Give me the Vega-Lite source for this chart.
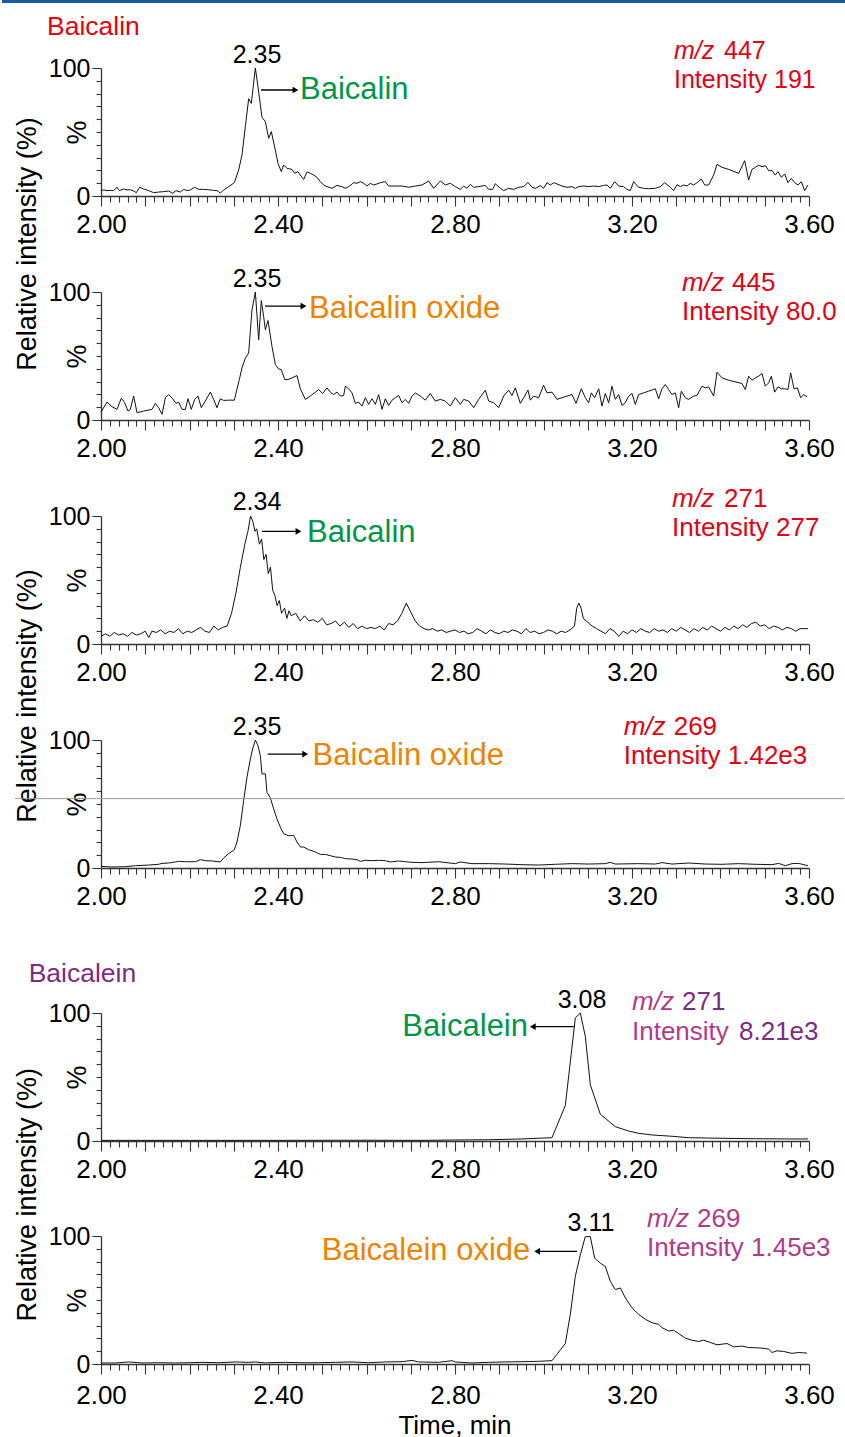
{
"$schema":"https://vega.github.io/schema/vega-lite/v6.json",
"padding":0,
"spacing":0,
"bounds":"flush",
"background":"white",
"config":{"view":{"stroke":null},
"axis":{"labelFont":"Liberation Sans","titleFont":"Liberation Sans","labelColor":"#000","titleColor":"#000","domainColor":"#333","tickColor":"#333","domainWidth":1.3,"tickWidth":1.1,"grid":false,"titleFontWeight":"normal"},
"text":{"font":"Liberation Sans"}},
"vconcat":[
{"width":708,"height":128,
"data":{"values":[{"t":2,"i":4.2},{"t":2.006,"i":4.7},{"t":2.0136,"i":4.2},{"t":2.0211,"i":4.4},{"t":2.0286,"i":4.2},{"t":2.0362,"i":6.8},{"t":2.0414,"i":4.2},{"t":2.0512,"i":5.5},{"t":2.0588,"i":4.7},{"t":2.0663,"i":4.9},{"t":2.0738,"i":3.9},{"t":2.0798,"i":2.6},{"t":2.0874,"i":6.8},{"t":2.0964,"i":5.5},{"t":2.1077,"i":4.2},{"t":2.119,"i":2.6},{"t":2.1303,"i":3.1},{"t":2.1416,"i":3.4},{"t":2.1529,"i":3.9},{"t":2.162,"i":2.1},{"t":2.1695,"i":4.2},{"t":2.1793,"i":3.1},{"t":2.1868,"i":5.2},{"t":2.1944,"i":4.2},{"t":2.2019,"i":4.7},{"t":2.2117,"i":6.8},{"t":2.2207,"i":5.2},{"t":2.232,"i":5.2},{"t":2.2433,"i":4.9},{"t":2.2546,"i":4.4},{"t":2.2621,"i":4.2},{"t":2.2697,"i":2.3},{"t":2.2772,"i":4.7},{"t":2.2885,"i":7.3},{"t":2.3013,"i":10.4},{"t":2.3111,"i":20.3},{"t":2.3186,"i":32},{"t":2.3262,"i":54.2},{"t":2.3337,"i":76},{"t":2.3397,"i":72.4},{"t":2.3488,"i":100},{"t":2.3548,"i":85.4},{"t":2.3638,"i":61.5},{"t":2.3714,"i":58.1},{"t":2.3789,"i":45.1},{"t":2.3849,"i":50.3},{"t":2.394,"i":35.9},{"t":2.4,"i":25.5},{"t":2.4075,"i":19},{"t":2.4128,"i":24.2},{"t":2.4203,"i":21.6},{"t":2.4316,"i":20.8},{"t":2.4377,"i":17.7},{"t":2.4452,"i":19},{"t":2.452,"i":15.6},{"t":2.458,"i":13},{"t":2.4655,"i":18.8},{"t":2.4731,"i":17.7},{"t":2.4806,"i":16.4},{"t":2.4881,"i":14.6},{"t":2.4957,"i":11.2},{"t":2.5032,"i":8.6},{"t":2.5107,"i":7.3},{"t":2.522,"i":6},{"t":2.5333,"i":8.3},{"t":2.5446,"i":7.3},{"t":2.5522,"i":6},{"t":2.5597,"i":7.3},{"t":2.571,"i":10.4},{"t":2.5785,"i":9.9},{"t":2.5861,"i":11.2},{"t":2.5936,"i":9.9},{"t":2.6011,"i":7.8},{"t":2.6087,"i":9.9},{"t":2.6162,"i":8.6},{"t":2.6237,"i":9.4},{"t":2.6313,"i":10.4},{"t":2.6426,"i":11.2},{"t":2.6501,"i":7.8},{"t":2.6652,"i":7.8},{"t":2.6802,"i":7.8},{"t":2.6953,"i":6.8},{"t":2.7104,"i":7.8},{"t":2.7254,"i":8.6},{"t":2.7405,"i":11.7},{"t":2.7518,"i":6},{"t":2.7668,"i":11.7},{"t":2.7781,"i":8.6},{"t":2.7894,"i":9.9},{"t":2.8007,"i":7.3},{"t":2.812,"i":5.2},{"t":2.8196,"i":7.8},{"t":2.8271,"i":6},{"t":2.8346,"i":9.1},{"t":2.8422,"i":6.8},{"t":2.8535,"i":7.3},{"t":2.8685,"i":8.3},{"t":2.8761,"i":5.2},{"t":2.8851,"i":5.2},{"t":2.8911,"i":9.6},{"t":2.9024,"i":6},{"t":2.91,"i":4.2},{"t":2.9213,"i":6},{"t":2.9326,"i":5.2},{"t":2.9439,"i":6.8},{"t":2.9552,"i":7.3},{"t":2.9649,"i":10.7},{"t":2.974,"i":6.8},{"t":2.9815,"i":6},{"t":2.9928,"i":8.1},{"t":3.0003,"i":6},{"t":3.0079,"i":10.4},{"t":3.0154,"i":8.6},{"t":3.023,"i":10.4},{"t":3.0305,"i":9.4},{"t":3.0418,"i":7.8},{"t":3.0531,"i":6.8},{"t":3.0644,"i":7.3},{"t":3.0719,"i":6},{"t":3.0794,"i":7.3},{"t":3.0907,"i":7.8},{"t":3.102,"i":7.3},{"t":3.1133,"i":7.8},{"t":3.1247,"i":7.3},{"t":3.1359,"i":8.3},{"t":3.1435,"i":8.6},{"t":3.151,"i":6},{"t":3.1608,"i":11.2},{"t":3.1698,"i":7.8},{"t":3.1811,"i":7.3},{"t":3.1887,"i":5.2},{"t":3.1962,"i":4.2},{"t":3.2037,"i":11.2},{"t":3.215,"i":6.8},{"t":3.2263,"i":6},{"t":3.2376,"i":5.7},{"t":3.2527,"i":6},{"t":3.264,"i":7.3},{"t":3.2738,"i":10.4},{"t":3.2866,"i":6.8},{"t":3.2941,"i":4.2},{"t":3.3017,"i":8.9},{"t":3.3092,"i":7.3},{"t":3.3167,"i":8.6},{"t":3.3243,"i":7.8},{"t":3.3318,"i":9.9},{"t":3.3393,"i":8.6},{"t":3.3469,"i":10.4},{"t":3.3567,"i":13.3},{"t":3.3642,"i":8.6},{"t":3.3732,"i":8.6},{"t":3.3845,"i":16.4},{"t":3.3921,"i":24.7},{"t":3.4034,"i":22.4},{"t":3.4184,"i":20.8},{"t":3.441,"i":17.7},{"t":3.4546,"i":27.6},{"t":3.4636,"i":12.5},{"t":3.4712,"i":20.8},{"t":3.4787,"i":22.4},{"t":3.4862,"i":24},{"t":3.4938,"i":22.9},{"t":3.5013,"i":23.7},{"t":3.5088,"i":19.8},{"t":3.5164,"i":19.8},{"t":3.5239,"i":16.4},{"t":3.5299,"i":19},{"t":3.5375,"i":14.6},{"t":3.545,"i":17.2},{"t":3.5525,"i":10.4},{"t":3.5601,"i":13.8},{"t":3.5676,"i":10.4},{"t":3.5751,"i":8.6},{"t":3.5827,"i":11.2},{"t":3.5902,"i":4.2},{"t":3.5977,"i":8.6}]},
"encoding":{
"x":{"field":"t","type":"quantitative","scale":{"domain":[2,3.6],"nice":false,"zero":false},"axis":{"values":[2,2.02,2.04,2.06,2.08,2.1,2.12,2.14,2.16,2.18,2.2,2.22,2.24,2.26,2.28,2.3,2.32,2.34,2.36,2.38,2.4,2.42,2.44,2.46,2.48,2.5,2.52,2.54,2.56,2.58,2.6,2.62,2.64,2.66,2.68,2.7,2.72,2.74,2.76,2.78,2.8,2.82,2.84,2.86,2.88,2.9,2.92,2.94,2.96,2.98,3,3.02,3.04,3.06,3.08,3.1,3.12,3.14,3.16,3.18,3.2,3.22,3.24,3.26,3.28,3.3,3.32,3.34,3.36,3.38,3.4,3.42,3.44,3.46,3.48,3.5,3.52,3.54,3.56,3.58,3.6],"title":null,"tickSize":{"condition":{"test":"abs(datum.value*10-round(datum.value*10))<0.01","value":10},"value":6},"labelExpr":"abs(datum.value*2.5-round(datum.value*2.5))<0.01 ? format(datum.value,'.2f') : ''","labelFontSize":26,"labelPadding":5,"labelOverlap":false,"labelFlush":false,"labelBound":false}},
"y":{"field":"i","type":"quantitative","scale":{"domain":[0,100],"nice":false},"axis":{"values":[0,10,20,30,40,50,60,70,80,90,100],"title":"%","titleAngle":270,"titleX":-24,"titleY":64,"titleAlign":"center","titleBaseline":"middle","titleFontSize":27,"tickSize":{"condition":{"test":"datum.value==0||datum.value==100","value":9},"value":5},"labelExpr":"datum.value==0||datum.value==100 ? datum.label : ''","labelFontSize":25,"labelPadding":2,"labelOverlap":false}}},
"layer":[
{"mark":{"type":"line","color":"#111","strokeWidth":1}},
{"data":{"values":[{"t":1.77627,"t2":3.68588,"i":151.95}]},"mark":{"type":"rule","color":"#1b5aa5","strokeWidth":3},"encoding":{"x2":{"field":"t2"}}},
{"data":{"values":[{"t":2.3616,"t2":2.4395,"i":82.8}]},"mark":{"type":"rule","color":"#000","strokeWidth":1.3},"encoding":{"x2":{"field":"t2"}}},
{"data":{"values":[{"t":2.4395,"i":82.8}]},"mark":{"type":"point","shape":"triangle-right","filled":true,"color":"#000","opacity":1,"size":45}},
{"data":{"values":[{"t":1.878,"i":125.8,"s":"Baicalin"}]},"mark":{"type":"text","align":"left","baseline":"alphabetic","fontSize":26.5,"color":"#e60012"},"encoding":{"text":{"field":"s"}}},
{"data":{"values":[{"t":3.4079,"i":107.2,"s":"447"},{"t":3.2949,"i":84.3,"s":"Intensity 191"}]},"mark":{"type":"text","align":"left","baseline":"alphabetic","fontSize":25,"color":"#e60012"},"encoding":{"text":{"field":"s"}}},
{"data":{"values":[{"t":3.2949,"i":107.2,"s":"m/z"}]},"mark":{"type":"text","align":"left","baseline":"alphabetic","fontSize":25,"fontStyle":"italic","color":"#e60012"},"encoding":{"text":{"field":"s"}}},
{"data":{"values":[{"t":2.3525,"i":103.9,"s":"2.35"}]},"mark":{"type":"text","align":"center","baseline":"alphabetic","fontSize":25,"color":"#000"},"encoding":{"text":{"field":"s"}}},
{"data":{"values":[{"t":2.4497,"i":75.8,"s":"Baicalin"}]},"mark":{"type":"text","align":"left","baseline":"alphabetic","fontSize":31,"color":"#00964a"},"encoding":{"text":{"field":"s"}}},
{"data":{"values":[{"t":1.835,"i":-37.5,"s":"Relative intensity (%)"}]},"mark":{"type":"text","align":"center","baseline":"middle","angle":270,"fontSize":27,"color":"#000"},"encoding":{"text":{"field":"s"}}}
]},
{"width":708,"height":96,"data":{"values":[]},"mark":"point","encoding":{}},
{"width":708,"height":128,
"data":{"values":[{"t":2,"i":6.2},{"t":2.0136,"i":14},{"t":2.0249,"i":10.4},{"t":2.0362,"i":8.3},{"t":2.046,"i":17.1},{"t":2.0535,"i":13.5},{"t":2.061,"i":7},{"t":2.0663,"i":8.3},{"t":2.0738,"i":18.7},{"t":2.0814,"i":5.7},{"t":2.0964,"i":7},{"t":2.1153,"i":8.3},{"t":2.1228,"i":13},{"t":2.1303,"i":9.6},{"t":2.1379,"i":4.4},{"t":2.1454,"i":17.4},{"t":2.1529,"i":19.9},{"t":2.162,"i":16.6},{"t":2.1695,"i":13},{"t":2.1755,"i":14},{"t":2.1831,"i":8.3},{"t":2.1906,"i":8.3},{"t":2.1966,"i":16.6},{"t":2.2041,"i":8.3},{"t":2.2117,"i":16.1},{"t":2.2192,"i":18.7},{"t":2.2267,"i":9.6},{"t":2.2358,"i":14.8},{"t":2.2471,"i":21.8},{"t":2.2546,"i":16.1},{"t":2.2621,"i":9.6},{"t":2.2697,"i":16.6},{"t":2.2772,"i":15.3},{"t":2.2885,"i":15.5},{"t":2.3013,"i":15.5},{"t":2.3126,"i":31.6},{"t":2.3186,"i":40.7},{"t":2.3262,"i":48.4},{"t":2.3337,"i":52.3},{"t":2.3412,"i":86},{"t":2.3488,"i":100},{"t":2.3563,"i":62.7},{"t":2.3623,"i":93.3},{"t":2.3676,"i":80.8},{"t":2.3714,"i":70.5},{"t":2.3774,"i":77.7},{"t":2.3864,"i":57.5},{"t":2.394,"i":43.3},{"t":2.4015,"i":39.9},{"t":2.4075,"i":39.4},{"t":2.4151,"i":31.6},{"t":2.4226,"i":31.6},{"t":2.4316,"i":32.9},{"t":2.4429,"i":34.7},{"t":2.4505,"i":24.4},{"t":2.4618,"i":16.1},{"t":2.4731,"i":18.7},{"t":2.4844,"i":21.8},{"t":2.4919,"i":23.8},{"t":2.5009,"i":20.7},{"t":2.5107,"i":25.1},{"t":2.5183,"i":21.8},{"t":2.5258,"i":19.9},{"t":2.5333,"i":21.8},{"t":2.5409,"i":18.7},{"t":2.5484,"i":19.2},{"t":2.5522,"i":26.4},{"t":2.5597,"i":24.4},{"t":2.5672,"i":21.2},{"t":2.5748,"i":13},{"t":2.5823,"i":14},{"t":2.5898,"i":10.9},{"t":2.5974,"i":17.4},{"t":2.6049,"i":12.2},{"t":2.6124,"i":16.6},{"t":2.62,"i":12.2},{"t":2.6275,"i":19.9},{"t":2.635,"i":8.3},{"t":2.6426,"i":16.6},{"t":2.6501,"i":11.4},{"t":2.6576,"i":15.5},{"t":2.6652,"i":17.4},{"t":2.6727,"i":19.2},{"t":2.6802,"i":13.5},{"t":2.6878,"i":16.1},{"t":2.6953,"i":13},{"t":2.7028,"i":18.7},{"t":2.7104,"i":21.2},{"t":2.7217,"i":18.7},{"t":2.7329,"i":15.5},{"t":2.7442,"i":20.7},{"t":2.7555,"i":14.8},{"t":2.7668,"i":16.1},{"t":2.7781,"i":14.8},{"t":2.7894,"i":10.9},{"t":2.8007,"i":17.4},{"t":2.812,"i":12.2},{"t":2.8196,"i":16.1},{"t":2.8309,"i":14.8},{"t":2.8422,"i":9.6},{"t":2.8535,"i":16.1},{"t":2.8685,"i":23.3},{"t":2.8761,"i":14.8},{"t":2.8874,"i":13.5},{"t":2.8987,"i":9.6},{"t":2.91,"i":18.7},{"t":2.9213,"i":23.3},{"t":2.9288,"i":19.2},{"t":2.9363,"i":25.1},{"t":2.9476,"i":13},{"t":2.9552,"i":17.4},{"t":2.9649,"i":23.3},{"t":2.9702,"i":15.5},{"t":2.9777,"i":18.7},{"t":2.989,"i":17.4},{"t":3.0003,"i":27.2},{"t":3.0079,"i":21.2},{"t":3.0192,"i":21.8},{"t":3.0305,"i":16.1},{"t":3.0418,"i":17.4},{"t":3.0531,"i":18.7},{"t":3.0644,"i":19.9},{"t":3.0734,"i":13},{"t":3.0855,"i":24.4},{"t":3.0945,"i":17.4},{"t":3.102,"i":13.5},{"t":3.1081,"i":21.2},{"t":3.1156,"i":17.4},{"t":3.1247,"i":24.4},{"t":3.1322,"i":10.9},{"t":3.1397,"i":20.7},{"t":3.1472,"i":13.5},{"t":3.1548,"i":26.4},{"t":3.1623,"i":16.1},{"t":3.1698,"i":19.9},{"t":3.1774,"i":11.4},{"t":3.1849,"i":13.5},{"t":3.1924,"i":18.7},{"t":3.2,"i":20.7},{"t":3.2075,"i":12.2},{"t":3.215,"i":19.9},{"t":3.2263,"i":21.2},{"t":3.2376,"i":22.5},{"t":3.2527,"i":24.4},{"t":3.2602,"i":16.6},{"t":3.2678,"i":24.4},{"t":3.2753,"i":27.7},{"t":3.2828,"i":23.8},{"t":3.2904,"i":19.9},{"t":3.2979,"i":21.2},{"t":3.3054,"i":9.6},{"t":3.3115,"i":22.5},{"t":3.3205,"i":17.4},{"t":3.328,"i":16.1},{"t":3.3393,"i":18.7},{"t":3.3469,"i":19.2},{"t":3.3582,"i":26.4},{"t":3.3657,"i":25.1},{"t":3.3732,"i":25.9},{"t":3.3845,"i":18.7},{"t":3.3921,"i":37.3},{"t":3.4034,"i":32.9},{"t":3.4184,"i":31.1},{"t":3.4373,"i":29.5},{"t":3.4486,"i":28.5},{"t":3.4561,"i":23.8},{"t":3.4636,"i":34.2},{"t":3.4712,"i":31.1},{"t":3.4787,"i":32.9},{"t":3.4862,"i":34.2},{"t":3.4938,"i":36.3},{"t":3.5013,"i":26.4},{"t":3.5088,"i":29},{"t":3.5149,"i":34.2},{"t":3.5224,"i":21.8},{"t":3.5299,"i":25.9},{"t":3.5375,"i":24.4},{"t":3.545,"i":24.4},{"t":3.5525,"i":23.8},{"t":3.5586,"i":36.8},{"t":3.5661,"i":24.4},{"t":3.5736,"i":25.1},{"t":3.5812,"i":17.4},{"t":3.5879,"i":19.9},{"t":3.5955,"i":18.1}]},
"encoding":{
"x":{"field":"t","type":"quantitative","scale":{"domain":[2,3.6],"nice":false,"zero":false},"axis":{"values":[2,2.02,2.04,2.06,2.08,2.1,2.12,2.14,2.16,2.18,2.2,2.22,2.24,2.26,2.28,2.3,2.32,2.34,2.36,2.38,2.4,2.42,2.44,2.46,2.48,2.5,2.52,2.54,2.56,2.58,2.6,2.62,2.64,2.66,2.68,2.7,2.72,2.74,2.76,2.78,2.8,2.82,2.84,2.86,2.88,2.9,2.92,2.94,2.96,2.98,3,3.02,3.04,3.06,3.08,3.1,3.12,3.14,3.16,3.18,3.2,3.22,3.24,3.26,3.28,3.3,3.32,3.34,3.36,3.38,3.4,3.42,3.44,3.46,3.48,3.5,3.52,3.54,3.56,3.58,3.6],"title":null,"tickSize":{"condition":{"test":"abs(datum.value*10-round(datum.value*10))<0.01","value":10},"value":6},"labelExpr":"abs(datum.value*2.5-round(datum.value*2.5))<0.01 ? format(datum.value,'.2f') : ''","labelFontSize":26,"labelPadding":5,"labelOverlap":false,"labelFlush":false,"labelBound":false}},
"y":{"field":"i","type":"quantitative","scale":{"domain":[0,100],"nice":false},"axis":{"values":[0,10,20,30,40,50,60,70,80,90,100],"title":"%","titleAngle":270,"titleX":-24,"titleY":64,"titleAlign":"center","titleBaseline":"middle","titleFontSize":27,"tickSize":{"condition":{"test":"datum.value==0||datum.value==100","value":9},"value":5},"labelExpr":"datum.value==0||datum.value==100 ? datum.label : ''","labelFontSize":25,"labelPadding":2,"labelOverlap":false}}},
"layer":[
{"mark":{"type":"line","color":"#111","strokeWidth":1}},
{"data":{"values":[{"t":2.3706,"t2":2.4576,"i":89}]},"mark":{"type":"rule","color":"#000","strokeWidth":1.3},"encoding":{"x2":{"field":"t2"}}},
{"data":{"values":[{"t":2.4576,"i":89}]},"mark":{"type":"point","shape":"triangle-right","filled":true,"color":"#000","opacity":1,"size":45}},
{"data":{"values":[{"t":3.426,"i":100.8,"s":"445"},{"t":3.313,"i":78.1,"s":"Intensity 80.0"}]},"mark":{"type":"text","align":"left","baseline":"alphabetic","fontSize":26,"color":"#e60012"},"encoding":{"text":{"field":"s"}}},
{"data":{"values":[{"t":3.313,"i":100.8,"s":"m/z"}]},"mark":{"type":"text","align":"left","baseline":"alphabetic","fontSize":26,"fontStyle":"italic","color":"#e60012"},"encoding":{"text":{"field":"s"}}},
{"data":{"values":[{"t":2.3525,"i":103.7,"s":"2.35"}]},"mark":{"type":"text","align":"center","baseline":"alphabetic","fontSize":25,"color":"#000"},"encoding":{"text":{"field":"s"}}},
{"data":{"values":[{"t":2.47,"i":80,"s":"Baicalin oxide"}]},"mark":{"type":"text","align":"left","baseline":"alphabetic","fontSize":31,"color":"#f08200"},"encoding":{"text":{"field":"s"}}}
]},
{"width":708,"height":96,"data":{"values":[]},"mark":"point","encoding":{}},
{"width":708,"height":128,
"data":{"values":[{"t":2,"i":6},{"t":2.01,"i":8},{"t":2.02,"i":6},{"t":2.03,"i":9},{"t":2.04,"i":7},{"t":2.05,"i":8},{"t":2.06,"i":6},{"t":2.07,"i":9},{"t":2.08,"i":7},{"t":2.09,"i":8},{"t":2.1,"i":10},{"t":2.108,"i":5},{"t":2.115,"i":10},{"t":2.125,"i":9},{"t":2.135,"i":11},{"t":2.145,"i":8},{"t":2.155,"i":10},{"t":2.165,"i":9},{"t":2.175,"i":12},{"t":2.185,"i":8},{"t":2.195,"i":10},{"t":2.205,"i":9},{"t":2.215,"i":11},{"t":2.225,"i":13},{"t":2.235,"i":10},{"t":2.245,"i":9},{"t":2.255,"i":14},{"t":2.265,"i":11},{"t":2.275,"i":13},{"t":2.285,"i":14},{"t":2.295,"i":24},{"t":2.305,"i":40},{"t":2.315,"i":60},{"t":2.325,"i":78},{"t":2.332,"i":88},{"t":2.338,"i":100},{"t":2.343,"i":96},{"t":2.348,"i":88},{"t":2.352,"i":90},{"t":2.358,"i":78},{"t":2.363,"i":82},{"t":2.368,"i":66},{"t":2.373,"i":70},{"t":2.378,"i":55},{"t":2.383,"i":60},{"t":2.388,"i":42},{"t":2.393,"i":38},{"t":2.398,"i":30},{"t":2.403,"i":34},{"t":2.408,"i":24},{"t":2.415,"i":28},{"t":2.42,"i":20},{"t":2.425,"i":26},{"t":2.43,"i":22},{"t":2.44,"i":24},{"t":2.45,"i":18},{"t":2.46,"i":22},{"t":2.47,"i":18},{"t":2.48,"i":19},{"t":2.49,"i":17},{"t":2.5,"i":20},{"t":2.51,"i":15},{"t":2.52,"i":16},{"t":2.53,"i":18},{"t":2.54,"i":14},{"t":2.55,"i":17},{"t":2.56,"i":13},{"t":2.57,"i":16},{"t":2.58,"i":12},{"t":2.59,"i":14},{"t":2.6,"i":12},{"t":2.61,"i":13},{"t":2.62,"i":12},{"t":2.63,"i":14},{"t":2.64,"i":11},{"t":2.65,"i":16},{"t":2.66,"i":15},{"t":2.67,"i":18},{"t":2.68,"i":24},{"t":2.69,"i":32},{"t":2.7,"i":25},{"t":2.71,"i":18},{"t":2.72,"i":14},{"t":2.73,"i":12},{"t":2.74,"i":11},{"t":2.75,"i":12},{"t":2.76,"i":10},{"t":2.77,"i":11},{"t":2.78,"i":9},{"t":2.79,"i":10},{"t":2.8,"i":11},{"t":2.81,"i":9},{"t":2.82,"i":10},{"t":2.83,"i":8},{"t":2.84,"i":9},{"t":2.85,"i":12},{"t":2.86,"i":10},{"t":2.87,"i":8},{"t":2.88,"i":11},{"t":2.89,"i":9},{"t":2.9,"i":8},{"t":2.91,"i":10},{"t":2.92,"i":9},{"t":2.93,"i":11},{"t":2.94,"i":10},{"t":2.95,"i":8},{"t":2.96,"i":12},{"t":2.97,"i":9},{"t":2.98,"i":10},{"t":2.99,"i":8},{"t":3,"i":9},{"t":3.01,"i":11},{"t":3.02,"i":10},{"t":3.03,"i":8},{"t":3.04,"i":10},{"t":3.05,"i":9},{"t":3.06,"i":11},{"t":3.07,"i":14},{"t":3.075,"i":28},{"t":3.08,"i":32},{"t":3.085,"i":28},{"t":3.09,"i":20},{"t":3.1,"i":17},{"t":3.11,"i":14},{"t":3.12,"i":12},{"t":3.13,"i":10},{"t":3.14,"i":8},{"t":3.15,"i":12},{"t":3.16,"i":10},{"t":3.17,"i":6},{"t":3.18,"i":10},{"t":3.19,"i":8},{"t":3.2,"i":11},{"t":3.21,"i":9},{"t":3.22,"i":12},{"t":3.23,"i":10},{"t":3.24,"i":9},{"t":3.25,"i":12},{"t":3.26,"i":10},{"t":3.27,"i":11},{"t":3.28,"i":9},{"t":3.29,"i":12},{"t":3.3,"i":10},{"t":3.31,"i":13},{"t":3.32,"i":11},{"t":3.33,"i":9},{"t":3.34,"i":12},{"t":3.35,"i":10},{"t":3.36,"i":13},{"t":3.37,"i":11},{"t":3.38,"i":14},{"t":3.39,"i":12},{"t":3.4,"i":10},{"t":3.41,"i":13},{"t":3.42,"i":11},{"t":3.43,"i":14},{"t":3.44,"i":12},{"t":3.45,"i":15},{"t":3.46,"i":13},{"t":3.47,"i":16},{"t":3.48,"i":17},{"t":3.49,"i":14},{"t":3.5,"i":15},{"t":3.51,"i":12},{"t":3.52,"i":14},{"t":3.53,"i":13},{"t":3.54,"i":11},{"t":3.55,"i":13},{"t":3.56,"i":12},{"t":3.57,"i":10},{"t":3.58,"i":12},{"t":3.59,"i":12},{"t":3.598,"i":12}]},
"encoding":{
"x":{"field":"t","type":"quantitative","scale":{"domain":[2,3.6],"nice":false,"zero":false},"axis":{"values":[2,2.02,2.04,2.06,2.08,2.1,2.12,2.14,2.16,2.18,2.2,2.22,2.24,2.26,2.28,2.3,2.32,2.34,2.36,2.38,2.4,2.42,2.44,2.46,2.48,2.5,2.52,2.54,2.56,2.58,2.6,2.62,2.64,2.66,2.68,2.7,2.72,2.74,2.76,2.78,2.8,2.82,2.84,2.86,2.88,2.9,2.92,2.94,2.96,2.98,3,3.02,3.04,3.06,3.08,3.1,3.12,3.14,3.16,3.18,3.2,3.22,3.24,3.26,3.28,3.3,3.32,3.34,3.36,3.38,3.4,3.42,3.44,3.46,3.48,3.5,3.52,3.54,3.56,3.58,3.6],"title":null,"tickSize":{"condition":{"test":"abs(datum.value*10-round(datum.value*10))<0.01","value":10},"value":6},"labelExpr":"abs(datum.value*2.5-round(datum.value*2.5))<0.01 ? format(datum.value,'.2f') : ''","labelFontSize":26,"labelPadding":5,"labelOverlap":false,"labelFlush":false,"labelBound":false}},
"y":{"field":"i","type":"quantitative","scale":{"domain":[0,100],"nice":false},"axis":{"values":[0,10,20,30,40,50,60,70,80,90,100],"title":"%","titleAngle":270,"titleX":-24,"titleY":64,"titleAlign":"center","titleBaseline":"middle","titleFontSize":27,"tickSize":{"condition":{"test":"datum.value==0||datum.value==100","value":9},"value":5},"labelExpr":"datum.value==0||datum.value==100 ? datum.label : ''","labelFontSize":25,"labelPadding":2,"labelOverlap":false}}},
"layer":[
{"mark":{"type":"line","color":"#111","strokeWidth":1}},
{"data":{"values":[{"t":2.3638,"t2":2.4463,"i":88}]},"mark":{"type":"rule","color":"#000","strokeWidth":1.3},"encoding":{"x2":{"field":"t2"}}},
{"data":{"values":[{"t":2.4463,"i":88}]},"mark":{"type":"point","shape":"triangle-right","filled":true,"color":"#000","opacity":1,"size":45}},
{"data":{"values":[{"t":3.4079,"i":107,"s":"271"},{"t":3.2904,"i":84,"s":"Intensity 277"}]},"mark":{"type":"text","align":"left","baseline":"alphabetic","fontSize":26,"color":"#e60012"},"encoding":{"text":{"field":"s"}}},
{"data":{"values":[{"t":3.2904,"i":107,"s":"m/z"}]},"mark":{"type":"text","align":"left","baseline":"alphabetic","fontSize":26,"fontStyle":"italic","color":"#e60012"},"encoding":{"text":{"field":"s"}}},
{"data":{"values":[{"t":2.3525,"i":104.5,"s":"2.34"}]},"mark":{"type":"text","align":"center","baseline":"alphabetic","fontSize":25,"color":"#000"},"encoding":{"text":{"field":"s"}}},
{"data":{"values":[{"t":2.4655,"i":80,"s":"Baicalin"}]},"mark":{"type":"text","align":"left","baseline":"alphabetic","fontSize":31,"color":"#00964a"},"encoding":{"text":{"field":"s"}}},
{"data":{"values":[{"t":1.835,"i":-40.6,"s":"Relative intensity (%)"}]},"mark":{"type":"text","align":"center","baseline":"middle","angle":270,"fontSize":27,"color":"#000"},"encoding":{"text":{"field":"s"}}}
]},
{"width":708,"height":96,"data":{"values":[]},"mark":"point","encoding":{}},
{"width":708,"height":128,
"data":{"values":[{"t":2,"i":1.3},{"t":2.0249,"i":0.8},{"t":2.055,"i":1},{"t":2.0776,"i":1.8},{"t":2.1077,"i":2.3},{"t":2.1303,"i":2.9},{"t":2.1379,"i":3.6},{"t":2.1529,"i":3.9},{"t":2.168,"i":4.7},{"t":2.1755,"i":5.2},{"t":2.1906,"i":4.9},{"t":2.2132,"i":4.9},{"t":2.2245,"i":6.5},{"t":2.2358,"i":5.7},{"t":2.2508,"i":5.5},{"t":2.2697,"i":4.7},{"t":2.2772,"i":7.8},{"t":2.2885,"i":11.2},{"t":2.3013,"i":14.3},{"t":2.3073,"i":20.3},{"t":2.3149,"i":33.2},{"t":2.3224,"i":52.7},{"t":2.3299,"i":70.9},{"t":2.3375,"i":85.2},{"t":2.3427,"i":93},{"t":2.3488,"i":100},{"t":2.3548,"i":95.6},{"t":2.3601,"i":87.8},{"t":2.3638,"i":73.5},{"t":2.3714,"i":73.5},{"t":2.3751,"i":59.2},{"t":2.3827,"i":54.8},{"t":2.3902,"i":46.2},{"t":2.3977,"i":38.4},{"t":2.4053,"i":31.9},{"t":2.4128,"i":26.8},{"t":2.4241,"i":25.2},{"t":2.4354,"i":25.5},{"t":2.4429,"i":20.3},{"t":2.4505,"i":16.4},{"t":2.458,"i":16.4},{"t":2.4693,"i":14.3},{"t":2.4844,"i":12.5},{"t":2.4957,"i":10.6},{"t":2.507,"i":10.6},{"t":2.5183,"i":9.6},{"t":2.5296,"i":8.6},{"t":2.5409,"i":8.3},{"t":2.5522,"i":7.3},{"t":2.5672,"i":7},{"t":2.5785,"i":6.5},{"t":2.5861,"i":5.2},{"t":2.5974,"i":6},{"t":2.6124,"i":5.7},{"t":2.6275,"i":6},{"t":2.6426,"i":5.7},{"t":2.6539,"i":4.7},{"t":2.6727,"i":5.5},{"t":2.6878,"i":4.9},{"t":2.7028,"i":4.4},{"t":2.7254,"i":4.2},{"t":2.7631,"i":4.9},{"t":2.8007,"i":3.4},{"t":2.812,"i":4.7},{"t":2.8384,"i":3.4},{"t":2.8761,"i":3.4},{"t":2.9137,"i":3.1},{"t":2.9514,"i":2.6},{"t":2.9891,"i":2.3},{"t":3.0267,"i":2.9},{"t":3.0644,"i":3.4},{"t":3.102,"i":3.1},{"t":3.1397,"i":3.4},{"t":3.151,"i":4.4},{"t":3.1623,"i":3.1},{"t":3.215,"i":3.4},{"t":3.2527,"i":3.1},{"t":3.2678,"i":4.2},{"t":3.2904,"i":3.1},{"t":3.328,"i":3.9},{"t":3.3657,"i":3.1},{"t":3.4034,"i":2.9},{"t":3.441,"i":3.4},{"t":3.4787,"i":2.9},{"t":3.5164,"i":2.6},{"t":3.5314,"i":3.6},{"t":3.5465,"i":1.8},{"t":3.5616,"i":3.4},{"t":3.5766,"i":3.6},{"t":3.5977,"i":1.8}]},
"encoding":{
"x":{"field":"t","type":"quantitative","scale":{"domain":[2,3.6],"nice":false,"zero":false},"axis":{"values":[2,2.02,2.04,2.06,2.08,2.1,2.12,2.14,2.16,2.18,2.2,2.22,2.24,2.26,2.28,2.3,2.32,2.34,2.36,2.38,2.4,2.42,2.44,2.46,2.48,2.5,2.52,2.54,2.56,2.58,2.6,2.62,2.64,2.66,2.68,2.7,2.72,2.74,2.76,2.78,2.8,2.82,2.84,2.86,2.88,2.9,2.92,2.94,2.96,2.98,3,3.02,3.04,3.06,3.08,3.1,3.12,3.14,3.16,3.18,3.2,3.22,3.24,3.26,3.28,3.3,3.32,3.34,3.36,3.38,3.4,3.42,3.44,3.46,3.48,3.5,3.52,3.54,3.56,3.58,3.6],"title":null,"tickSize":{"condition":{"test":"abs(datum.value*10-round(datum.value*10))<0.01","value":10},"value":6},"labelExpr":"abs(datum.value*2.5-round(datum.value*2.5))<0.01 ? format(datum.value,'.2f') : ''","labelFontSize":26,"labelPadding":5,"labelOverlap":false,"labelFlush":false,"labelBound":false}},
"y":{"field":"i","type":"quantitative","scale":{"domain":[0,100],"nice":false},"axis":{"values":[0,10,20,30,40,50,60,70,80,90,100],"title":"%","titleAngle":270,"titleX":-24,"titleY":64,"titleAlign":"center","titleBaseline":"middle","titleFontSize":27,"tickSize":{"condition":{"test":"datum.value==0||datum.value==100","value":9},"value":5},"labelExpr":"datum.value==0||datum.value==100 ? datum.label : ''","labelFontSize":25,"labelPadding":2,"labelOverlap":false}}},
"layer":[
{"mark":{"type":"line","color":"#111","strokeWidth":1}},
{"data":{"values":[{"t":1.8057,"t2":3.6791,"i":54.2}]},"mark":{"type":"rule","color":"#9a9a9a","strokeWidth":1},"encoding":{"x2":{"field":"t2"}}},
{"data":{"values":[{"t":2.3767,"t2":2.4615,"i":89}]},"mark":{"type":"rule","color":"#000","strokeWidth":1.3},"encoding":{"x2":{"field":"t2"}}},
{"data":{"values":[{"t":2.4615,"i":89}]},"mark":{"type":"point","shape":"triangle-right","filled":true,"color":"#000","opacity":1,"size":45}},
{"data":{"values":[{"t":3.2942,"i":103.7,"s":"269"},{"t":3.1812,"i":81,"s":"Intensity 1.42e3"}]},"mark":{"type":"text","align":"left","baseline":"alphabetic","fontSize":26,"color":"#e60012"},"encoding":{"text":{"field":"s"}}},
{"data":{"values":[{"t":3.1812,"i":103.7,"s":"m/z"}]},"mark":{"type":"text","align":"left","baseline":"alphabetic","fontSize":26,"fontStyle":"italic","color":"#e60012"},"encoding":{"text":{"field":"s"}}},
{"data":{"values":[{"t":2.3525,"i":103.7,"s":"2.35"}]},"mark":{"type":"text","align":"center","baseline":"alphabetic","fontSize":25,"color":"#000"},"encoding":{"text":{"field":"s"}}},
{"data":{"values":[{"t":2.4782,"i":80.2,"s":"Baicalin oxide"}]},"mark":{"type":"text","align":"left","baseline":"alphabetic","fontSize":31,"color":"#f08200"},"encoding":{"text":{"field":"s"}}}
]},
{"width":708,"height":145,"data":{"values":[]},"mark":"point","encoding":{}},
{"width":708,"height":128,
"data":{"values":[{"t":2,"i":0.5},{"t":2.2,"i":0.5},{"t":2.4,"i":0.5},{"t":2.6,"i":0.6},{"t":2.7254,"i":0.5},{"t":2.8007,"i":0.8},{"t":2.8761,"i":1},{"t":2.9514,"i":1.6},{"t":3.0192,"i":2.6},{"t":3.0493,"i":27.7},{"t":3.0719,"i":96.1},{"t":3.0832,"i":100},{"t":3.0945,"i":81.7},{"t":3.1058,"i":43.9},{"t":3.1284,"i":20.9},{"t":3.1623,"i":11.2},{"t":3.1924,"i":7.8},{"t":3.215,"i":6},{"t":3.2452,"i":4.7},{"t":3.2904,"i":3.7},{"t":3.328,"i":2.6},{"t":3.4034,"i":2.1},{"t":3.4787,"i":1.8},{"t":3.554,"i":1.6},{"t":3.5977,"i":1.6}]},
"encoding":{
"x":{"field":"t","type":"quantitative","scale":{"domain":[2,3.6],"nice":false,"zero":false},"axis":{"values":[2,2.02,2.04,2.06,2.08,2.1,2.12,2.14,2.16,2.18,2.2,2.22,2.24,2.26,2.28,2.3,2.32,2.34,2.36,2.38,2.4,2.42,2.44,2.46,2.48,2.5,2.52,2.54,2.56,2.58,2.6,2.62,2.64,2.66,2.68,2.7,2.72,2.74,2.76,2.78,2.8,2.82,2.84,2.86,2.88,2.9,2.92,2.94,2.96,2.98,3,3.02,3.04,3.06,3.08,3.1,3.12,3.14,3.16,3.18,3.2,3.22,3.24,3.26,3.28,3.3,3.32,3.34,3.36,3.38,3.4,3.42,3.44,3.46,3.48,3.5,3.52,3.54,3.56,3.58,3.6],"title":null,"tickSize":{"condition":{"test":"abs(datum.value*10-round(datum.value*10))<0.01","value":10},"value":6},"labelExpr":"abs(datum.value*2.5-round(datum.value*2.5))<0.01 ? format(datum.value,'.2f') : ''","labelFontSize":26,"labelPadding":5,"labelOverlap":false,"labelFlush":false,"labelBound":false}},
"y":{"field":"i","type":"quantitative","scale":{"domain":[0,100],"nice":false},"axis":{"values":[0,10,20,30,40,50,60,70,80,90,100],"title":"%","titleAngle":270,"titleX":-24,"titleY":64,"titleAlign":"center","titleBaseline":"middle","titleFontSize":27,"tickSize":{"condition":{"test":"datum.value==0||datum.value==100","value":9},"value":5},"labelExpr":"datum.value==0||datum.value==100 ? datum.label : ''","labelFontSize":25,"labelPadding":2,"labelOverlap":false}}},
"layer":[
{"mark":{"type":"line","color":"#111","strokeWidth":1}},
{"data":{"values":[{"t":2.9758,"t2":3.0682,"i":89.3}]},"mark":{"type":"rule","color":"#000","strokeWidth":1.3},"encoding":{"x2":{"field":"t2"}}},
{"data":{"values":[{"t":2.9758,"i":89.3}]},"mark":{"type":"point","shape":"triangle-left","filled":true,"color":"#000","opacity":1,"size":45}},
{"data":{"values":[{"t":1.8366,"i":123.9,"s":"Baicalein"}]},"mark":{"type":"text","align":"left","baseline":"alphabetic","fontSize":26.5,"color":"#7b2c83"},"encoding":{"text":{"field":"s"}}},
{"data":{"values":[{"t":3.313,"i":102.3,"s":"271"},{"t":3.4418,"i":78.9,"s":"8.21e3"}]},"mark":{"type":"text","align":"left","baseline":"alphabetic","fontSize":26,"color":"#7b2c83"},"encoding":{"text":{"field":"s"}}},
{"data":{"values":[{"t":3.2,"i":78.9,"s":"Intensity"}]},"mark":{"type":"text","align":"left","baseline":"alphabetic","fontSize":26,"color":"#b03a8a"},"encoding":{"text":{"field":"s"}}},
{"data":{"values":[{"t":3.2,"i":102.3,"s":"m/z"}]},"mark":{"type":"text","align":"left","baseline":"alphabetic","fontSize":26,"fontStyle":"italic","color":"#b03a8a"},"encoding":{"text":{"field":"s"}}},
{"data":{"values":[{"t":3.087,"i":104.1,"s":"3.08"}]},"mark":{"type":"text","align":"center","baseline":"alphabetic","fontSize":25,"color":"#000"},"encoding":{"text":{"field":"s"}}},
{"data":{"values":[{"t":2.965,"i":82,"s":"Baicalein"}]},"mark":{"type":"text","align":"right","baseline":"alphabetic","fontSize":31,"color":"#00964a"},"encoding":{"text":{"field":"s"}}},
{"data":{"values":[{"t":1.835,"i":-42,"s":"Relative intensity (%)"}]},"mark":{"type":"text","align":"center","baseline":"middle","angle":270,"fontSize":27,"color":"#000"},"encoding":{"text":{"field":"s"}}}
]},
{"width":708,"height":95,"data":{"values":[]},"mark":"point","encoding":{}},
{"width":708,"height":128,
"data":{"values":[{"t":2,"i":0.8},{"t":2.0324,"i":0.8},{"t":2.0625,"i":1.6},{"t":2.0927,"i":0.8},{"t":2.1303,"i":1},{"t":2.168,"i":0.8},{"t":2.1981,"i":1},{"t":2.2282,"i":1.3},{"t":2.2659,"i":1},{"t":2.3036,"i":1.6},{"t":2.3337,"i":1.3},{"t":2.3488,"i":1.6},{"t":2.3714,"i":0.8},{"t":2.3789,"i":1},{"t":2.4166,"i":1.3},{"t":2.4542,"i":1},{"t":2.4919,"i":1},{"t":2.5296,"i":1.3},{"t":2.5672,"i":1.6},{"t":2.6049,"i":1},{"t":2.6426,"i":1.6},{"t":2.6802,"i":1.8},{"t":2.7028,"i":2.8},{"t":2.7179,"i":1.6},{"t":2.7631,"i":1.3},{"t":2.7932,"i":2.6},{"t":2.8007,"i":1.6},{"t":2.8384,"i":0.8},{"t":2.8761,"i":1.3},{"t":2.9137,"i":1.6},{"t":2.9514,"i":1.8},{"t":2.9891,"i":2.1},{"t":3.0192,"i":2.6},{"t":3.0493,"i":16},{"t":3.0606,"i":38.8},{"t":3.0719,"i":68.5},{"t":3.0832,"i":85.3},{"t":3.0945,"i":99.5},{"t":3.1058,"i":99.5},{"t":3.1156,"i":82.7},{"t":3.1284,"i":78.8},{"t":3.1397,"i":76.2},{"t":3.151,"i":64.6},{"t":3.1623,"i":58.1},{"t":3.1736,"i":59.4},{"t":3.1849,"i":51.7},{"t":3.2,"i":43.9},{"t":3.215,"i":38.8},{"t":3.2301,"i":34.9},{"t":3.2452,"i":32.3},{"t":3.2602,"i":31},{"t":3.2678,"i":28.4},{"t":3.2828,"i":25.8},{"t":3.2941,"i":26.4},{"t":3.3054,"i":23.8},{"t":3.3205,"i":20.2},{"t":3.3356,"i":18.6},{"t":3.3507,"i":17.6},{"t":3.3619,"i":18.6},{"t":3.377,"i":16.8},{"t":3.3921,"i":15},{"t":3.4034,"i":15.5},{"t":3.4147,"i":16},{"t":3.4297,"i":13.4},{"t":3.4486,"i":14},{"t":3.4636,"i":12.9},{"t":3.4787,"i":12.7},{"t":3.4938,"i":12.4},{"t":3.5088,"i":11.6},{"t":3.5164,"i":9},{"t":3.5277,"i":10.3},{"t":3.5427,"i":9.8},{"t":3.5616,"i":8.3},{"t":3.5767,"i":9},{"t":3.5955,"i":8.5}]},
"encoding":{
"x":{"field":"t","type":"quantitative","scale":{"domain":[2,3.6],"nice":false,"zero":false},"axis":{"values":[2,2.02,2.04,2.06,2.08,2.1,2.12,2.14,2.16,2.18,2.2,2.22,2.24,2.26,2.28,2.3,2.32,2.34,2.36,2.38,2.4,2.42,2.44,2.46,2.48,2.5,2.52,2.54,2.56,2.58,2.6,2.62,2.64,2.66,2.68,2.7,2.72,2.74,2.76,2.78,2.8,2.82,2.84,2.86,2.88,2.9,2.92,2.94,2.96,2.98,3,3.02,3.04,3.06,3.08,3.1,3.12,3.14,3.16,3.18,3.2,3.22,3.24,3.26,3.28,3.3,3.32,3.34,3.36,3.38,3.4,3.42,3.44,3.46,3.48,3.5,3.52,3.54,3.56,3.58,3.6],"title":null,"tickSize":{"condition":{"test":"abs(datum.value*10-round(datum.value*10))<0.01","value":10},"value":6},"labelExpr":"abs(datum.value*2.5-round(datum.value*2.5))<0.01 ? format(datum.value,'.2f') : ''","labelFontSize":26,"labelPadding":8,"labelOverlap":false,"labelFlush":false,"labelBound":false}},
"y":{"field":"i","type":"quantitative","scale":{"domain":[0,100],"nice":false},"axis":{"values":[0,10,20,30,40,50,60,70,80,90,100],"title":"%","titleAngle":270,"titleX":-24,"titleY":64,"titleAlign":"center","titleBaseline":"middle","titleFontSize":27,"tickSize":{"condition":{"test":"datum.value==0||datum.value==100","value":9},"value":5},"labelExpr":"datum.value==0||datum.value==100 ? datum.label : ''","labelFontSize":25,"labelPadding":2,"labelOverlap":false}}},
"layer":[
{"mark":{"type":"line","color":"#111","strokeWidth":1}},
{"data":{"values":[{"t":2.9857,"t2":3.0757,"i":88}]},"mark":{"type":"rule","color":"#000","strokeWidth":1.3},"encoding":{"x2":{"field":"t2"}}},
{"data":{"values":[{"t":2.9857,"i":88}]},"mark":{"type":"point","shape":"triangle-left","filled":true,"color":"#000","opacity":1,"size":45}},
{"data":{"values":[{"t":3.3469,"i":106.7,"s":"269"},{"t":3.2339,"i":84.6,"s":"Intensity 1.45e3"}]},"mark":{"type":"text","align":"left","baseline":"alphabetic","fontSize":26,"color":"#b03a8a"},"encoding":{"text":{"field":"s"}}},
{"data":{"values":[{"t":3.2339,"i":106.7,"s":"m/z"}]},"mark":{"type":"text","align":"left","baseline":"alphabetic","fontSize":26,"fontStyle":"italic","color":"#b03a8a"},"encoding":{"text":{"field":"s"}}},
{"data":{"values":[{"t":3.1073,"i":103.6,"s":"3.11"}]},"mark":{"type":"text","align":"center","baseline":"alphabetic","fontSize":25,"color":"#000"},"encoding":{"text":{"field":"s"}}},
{"data":{"values":[{"t":2.9702,"i":81.2,"s":"Baicalein oxide"}]},"mark":{"type":"text","align":"right","baseline":"alphabetic","fontSize":31,"color":"#f08200"},"encoding":{"text":{"field":"s"}}},
{"data":{"values":[{"t":2.8,"i":-54.5,"s":"Time, min"}]},"mark":{"type":"text","align":"center","baseline":"alphabetic","fontSize":26,"color":"#000"},"encoding":{"text":{"field":"s"}}}
]}
]}
